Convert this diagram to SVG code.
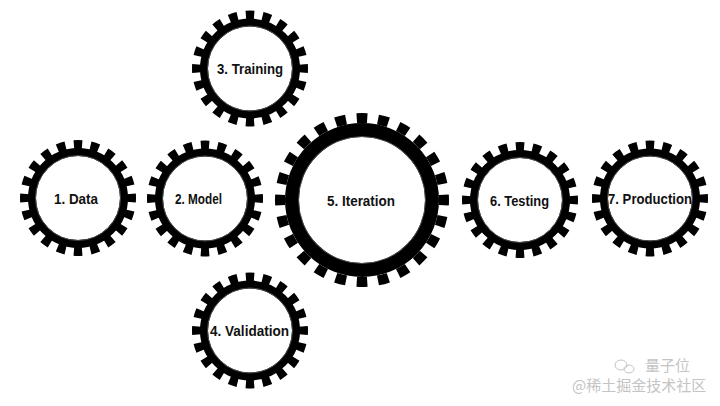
<svg xmlns="http://www.w3.org/2000/svg" xmlns:xlink="http://www.w3.org/1999/xlink" width="720" height="406" viewBox="0 0 720 406">
<style>
.teeth{fill:none;stroke:#000;stroke-dasharray:0.5 0.5;stroke-dashoffset:0.25}
.ring{fill:none;stroke:#000}
.bevel{fill:none;stroke:#4a4a4a;stroke-width:1}
.lbl{font-family:"Liberation Sans",Arial,sans-serif;font-weight:bold;font-size:15px;fill:#111;text-anchor:middle}
.wm{font-family:"Noto Sans CJK SC","Liberation Sans",sans-serif;fill:#c4c4c4}
</style>
<defs>
<g id="gearS">
<circle r="53.5" pathLength="20" class="teeth" stroke-width="9"/>
<circle r="46" class="ring" stroke-width="8"/>
<circle r="42.5" class="bevel"/>
</g>
<g id="gearL">
<circle r="82" pathLength="24" class="teeth" stroke-width="10"/>
<circle r="70" class="ring" stroke-width="14"/>
<circle r="63.5" class="bevel"/>
</g>
</defs>
<rect width="720" height="406" fill="#fff"/>
<g id="connectors"></g>
<g id="n1" transform="translate(78,198)"><use xlink:href="#gearS"/><text class="lbl" x="-2" y="5.5" textLength="44" lengthAdjust="spacingAndGlyphs">1. Data</text></g>
<g id="n2" transform="translate(205,198.5)"><use xlink:href="#gearS"/><text class="lbl" x="-6.5" y="5" textLength="47" lengthAdjust="spacingAndGlyphs">2. Model</text></g>
<g id="n3" transform="translate(250,68.5)"><use xlink:href="#gearS"/><text class="lbl" x="0" y="5" textLength="66" lengthAdjust="spacingAndGlyphs">3. Training</text></g>
<g id="n4" transform="translate(250,330.5)"><use xlink:href="#gearS"/><text class="lbl" x="-0.5" y="5" textLength="79" lengthAdjust="spacingAndGlyphs">4. Validation</text></g>
<g id="n5" transform="translate(362,200)"><use xlink:href="#gearL"/><text class="lbl" x="-1" y="5.5" textLength="68" lengthAdjust="spacingAndGlyphs">5. Iteration</text></g>
<g id="n6" transform="translate(520,200)"><use xlink:href="#gearS"/><text class="lbl" x="-0.5" y="5.5" textLength="59" lengthAdjust="spacingAndGlyphs">6. Testing</text></g>
<g id="n7" transform="translate(650,198.5)"><use xlink:href="#gearS"/><text class="lbl" x="0" y="5" textLength="84" lengthAdjust="spacingAndGlyphs">7. Production</text></g>
<g id="watermark">
<ellipse cx="621" cy="365" rx="6" ry="5" fill="none" stroke="#c4c4c4" stroke-width="1"/>
<ellipse cx="629" cy="369" rx="5" ry="4" fill="none" stroke="#c4c4c4" stroke-width="1"/>
<text class="wm" x="645" y="371" font-size="15">量子位</text>
<text class="wm" x="572" y="391" font-size="15">@稀土掘金技术社区</text>
</g>
</svg>
